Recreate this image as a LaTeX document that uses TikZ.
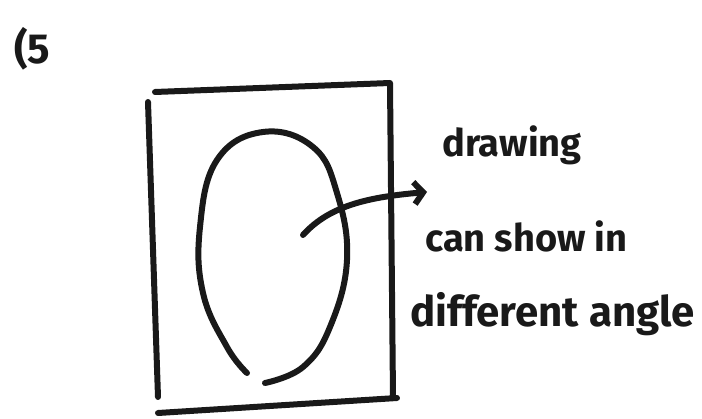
\documentclass[tikz,border=0pt]{standalone}
\usepackage{fontspec}
\setsansfont{Fira Sans}
\usetikzlibrary{positioning,arrows.meta}

\begin{document}
\begin{tikzpicture}[x=1pt,y=-1pt,
    pen/.style={
      draw=black!90,
      line width=6pt,
      line cap=round,
      line join=round
    },
    note/.style={
      font=\sffamily\bfseries\fontsize{38}{38}\selectfont,
      text=black!90,
      inner sep=0pt,
      anchor=base west
    }
    ]
    \useasboundingbox (0,0) rectangle (702,419);
    \node[note,font=\sffamily\bfseries\fontsize{42}{42}\selectfont] at (14,64)
      (num) {(5};
    % frame
    \draw[pen] (155,92) -- (390,83) -- (393,397);
    \draw[pen] (148,102) -- (158,397);
    \draw[pen] (158,413) -- (397,398);
    % egg
    \draw[pen] plot[smooth,tension=0.7] coordinates {(247,373) (227,347) (203,293)
      (200,227) (217,160) (263,132) (313,147) (337,193) (347,260) (330,327)
      (303,367) (265,383)};
    % labels
    \node[note] at (442,157) (draw) {drawing};
    \node[note] at (425,252) (show) {can show in};
    \node[note,font=\sffamily\bfseries\fontsize{42}{42}\selectfont] at (410,327)
      (angle) {different angle};
    \coordinate (tail) at (303,235);
    \coordinate (tip) at (427,192);
    \draw[pen,-{Straight Barb[length=9pt,width=22pt]}] (tail)
      .. controls (330,205) and (370,197) .. (tip);
\end{tikzpicture}
\end{document}
